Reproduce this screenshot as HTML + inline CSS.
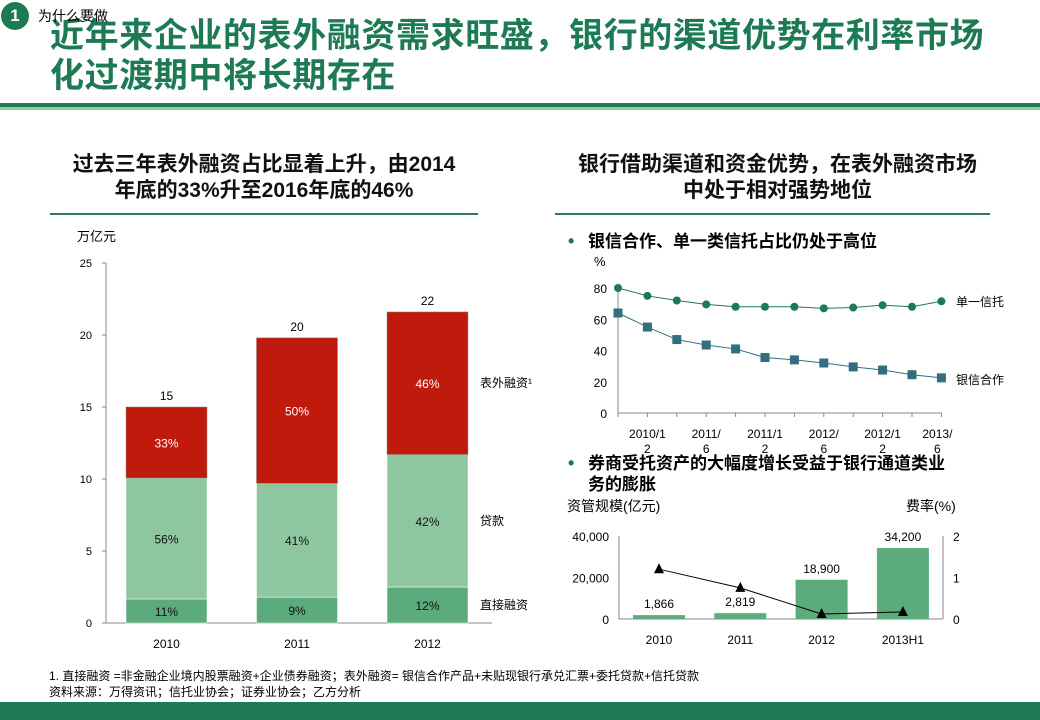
<!DOCTYPE html>
<html><head><meta charset="utf-8">
<style>
body{margin:0;width:1040px;height:720px;overflow:hidden;background:#fff;font-family:"Liberation Sans","Noto Sans CJK SC",sans-serif;position:relative}
.a{position:absolute}
.t{font-weight:bold;color:#1d7a55;font-size:34px;letter-spacing:0.6px;line-height:40px;left:50px;top:16px;white-space:nowrap}
.h{font-weight:bold;font-size:21px;line-height:26px;text-align:center;color:#111;white-space:nowrap}
svg text{font-family:"Liberation Sans","Noto Sans CJK SC",sans-serif}
</style></head><body>
<div class="a" style="left:1px;top:2px;width:28px;height:28px;border-radius:50%;background:#1d7a55;color:#fff;font-weight:bold;font-size:17px;text-align:center;line-height:28px">1</div>
<div class="a t">近年来企业的表外融资需求旺盛，银行的渠道优势在利率市场<br>化过渡期中将长期存在</div>
<div class="a" style="left:38px;top:6px;font-size:14px">为什么要做</div>
<div class="a" style="left:0;top:103px;width:1040px;height:4px;background:#1d7a55"></div>
<div class="a" style="left:0;top:107px;width:1040px;height:3px;background:#8fcaa5"></div>

<div class="a h" style="left:50px;top:152px;width:428px">过去三年表外融资占比显着上升，由2014<br>年底的33%升至2016年底的46%</div>
<div class="a" style="left:50px;top:213px;width:428px;height:2px;background:#2e7a62"></div>
<div class="a h" style="left:555px;top:152px;width:445px">银行借助渠道和资金优势，在表外融资市场<br>中处于相对强势地位</div>
<div class="a" style="left:555px;top:213px;width:435px;height:2px;background:#2e7a62"></div>

<svg class="a" style="left:0;top:0" width="1040" height="720" id="svg"></svg>

<div class="a" style="left:49px;top:668px;font-size:12px;line-height:16px">1. 直接融资 =非金融企业境内股票融资+企业债券融资；表外融资= 银信合作产品+未贴现银行承兑汇票+委托贷款+信托贷款<br>资料来源：万得资讯；信托业协会；证券业协会；乙方分析</div>
<div class="a" style="left:0;top:702px;width:1040px;height:18px;background:#1d7a55"></div>

<script>
const years=["2010","2011","2012"];
const direct=[1.67,1.8,2.5];
const loans=[8.4,7.9,9.2];
const offbs=[4.93,10.1,9.9];
const totals=["15","20","22"];
const pctDirect=["11%","9%","12%"];
const pctLoan=["56%","41%","42%"];
const pctOff=["33%","50%","46%"];
const leftTicks=[0,5,10,15,20,25];

const lineX=["2010/12","","2011/6","","2011/12","","2012/6","","2012/12","","2013/6",""];
const single=[80,75,72,69.5,68,68,68,67,67.5,69,68,71.5];
const bankTrust=[64,55,47,43.5,41,35.5,34,32,29.5,27.5,24.5,22.5];
const lineTicks=[0,20,40,60,80];

const brokYears=["2010","2011","2012","2013H1"];
const brokScale=[1866,2819,18900,34200];
const brokLabels=["1,866","2,819","18,900","34,200"];
const feeRate=[1.2,0.75,0.12,0.17];
const brokTicks=[0,20000,40000];
const brokTickLabels=["0","20,000","40,000"];
const rateTicks=[0,1,2];

const svg=document.getElementById('svg');
const NS="http://www.w3.org/2000/svg";
function mk(tag,at,txt){const e=document.createElementNS(NS,tag);for(const k in at)e.setAttribute(k,at[k]);if(txt!==undefined)e.textContent=txt;svg.appendChild(e);return e;}

// Left stacked chart
const ly=v=>623-v*14.4;
const lx=i=>126+i*130.5;
let e=mk('text',{x:77,y:241,'font-size':13},'万亿元');

e=mk('line',{x1:106,y1:263,x2:106,y2:623,stroke:'#888'});

e=mk('line',{x1:106,y1:623,x2:492,y2:623,stroke:'#888'});

leftTicks.forEach(t=>{
  e=mk('line',{x1:102,y1:ly(t),x2:106,y2:ly(t),stroke:'#888'});
  
  e=mk('text',{x:92,y:ly(t)+4,'font-size':11,'text-anchor':'end'},t);
  
});
years.forEach((y,i)=>{
  const x=lx(i),w=81;
  const b0=direct[i],b1=b0+loans[i],b2=b1+offbs[i];
  e=mk('rect',{x:x,y:ly(b0),width:w,height:ly(0)-ly(b0),fill:'#5bab7d',stroke:'#fff','stroke-width':0.5});
  
  e=mk('rect',{x:x,y:ly(b1),width:w,height:ly(b0)-ly(b1),fill:'#8ec79f',stroke:'#fff','stroke-width':0.5});
  
  e=mk('rect',{x:x,y:ly(b2),width:w,height:ly(b1)-ly(b2),fill:'#c01a0c',stroke:'#888','stroke-width':0.5});
  
  e=mk('text',{x:x+w/2,y:(ly(0)+ly(b0))/2+5,'font-size':12,'text-anchor':'middle',fill:'#111'},pctDirect[i]);
  
  e=mk('text',{x:x+w/2,y:(ly(b0)+ly(b1))/2+5,'font-size':12,'text-anchor':'middle',fill:'#111'},pctLoan[i]);
  
  e=mk('text',{x:x+w/2,y:(ly(b1)+ly(b2))/2+5,'font-size':12,'text-anchor':'middle',fill:'#fff'},pctOff[i]);
  
  e=mk('text',{x:x+w/2,y:ly(b2)-7,'font-size':12,'text-anchor':'middle'},totals[i]);
  
  e=mk('text',{x:x+w/2,y:648,'font-size':12,'text-anchor':'middle'},y);
  
});
[['表外融资¹',387],['贷款',525],['直接融资',609]].forEach(l=>{
  e=mk('text',{x:480,y:l[1],'font-size':12},l[0]);
  
});

// Right line chart
e=mk('text',{x:568,y:247,'font-size':18,'font-weight':'bold',fill:'#1d7a55'},'•');

e=mk('text',{x:588,y:247,'font-size':17,'font-weight':'bold'},'银信合作、单一类信托占比仍处于高位');

e=mk('text',{x:594,y:266,'font-size':13},'%');

const py=v=>413-v*1.5625;
const px=i=>618+i*29.4;
e=mk('line',{x1:618,y1:288,x2:618,y2:413,stroke:'#888'});

e=mk('line',{x1:618,y1:413,x2:942,y2:413,stroke:'#888'});

lineTicks.forEach(t=>{
  e=mk('text',{x:607,y:py(t)+5,'font-size':12,'text-anchor':'end'},t);
  
});
lineX.forEach((l,i)=>{
  e=mk('line',{x1:px(i),y1:413,x2:px(i),y2:417,stroke:'#888'});
  
  if(l){
    const cut=l.length>6?6:5;
    const cx=px(i)+29.4+(i==10?-4:0);
    e=mk('text',{x:cx,y:438,'font-size':12,'text-anchor':'middle'},l.slice(0,cut));
    
    e=mk('text',{x:cx,y:453,'font-size':12,'text-anchor':'middle'},l.slice(cut));
    }
});
e=mk('polyline',{points:single.map((v,i)=>px(i)+','+py(v)).join(' '),fill:'none',stroke:'#1d7a55','stroke-width':1});

e=mk('polyline',{points:bankTrust.map((v,i)=>px(i)+','+py(v)).join(' '),fill:'none',stroke:'#336e80','stroke-width':1});

single.forEach((v,i)=>{e=mk('circle',{cx:px(i),cy:py(v),r:4,fill:'#1d7a55'});
  });
bankTrust.forEach((v,i)=>{e=mk('rect',{x:px(i)-4.5,y:py(v)-4.5,width:9,height:9,fill:'#336e80'});
  });
e=mk('text',{x:956,y:306,'font-size':12},'单一信托');

e=mk('text',{x:956,y:384,'font-size':12},'银信合作');


// Bottom combo chart
e=mk('text',{x:568,y:469,'font-size':18,'font-weight':'bold',fill:'#1d7a55'},'•');

e=mk('text',{x:588,y:469,'font-size':17,'font-weight':'bold'},'券商受托资产的大幅度增长受益于银行通道类业');

e=mk('text',{x:588,y:490,'font-size':17,'font-weight':'bold'},'务的膨胀');

e=mk('text',{x:567,y:511,'font-size':14},'资管规模(亿元)');

e=mk('text',{x:906,y:511,'font-size':14},'费率(%)');

const by=v=>619-v*83/40000;
const ry=v=>619-v*41.5;
const bx=i=>659+i*81.3;
e=mk('line',{x1:619,y1:536,x2:619,y2:619,stroke:'#888'});

e=mk('line',{x1:943,y1:536,x2:943,y2:619,stroke:'#888'});

e=mk('line',{x1:619,y1:619,x2:943,y2:619,stroke:'#888'});

brokTicks.forEach((t,i)=>{
  e=mk('text',{x:609,y:by(t)+5,'font-size':12,'text-anchor':'end'},brokTickLabels[i]);
  
});
rateTicks.forEach(t=>{
  e=mk('text',{x:953,y:ry(t)+5,'font-size':12},t);
  
});
brokYears.forEach((y,i)=>{
  e=mk('rect',{x:bx(i)-26,y:by(brokScale[i]),width:52,height:619-by(brokScale[i]),fill:'#5bab7d'});
  
  e=mk('text',{x:bx(i),y:by(brokScale[i])-7,'font-size':12,'text-anchor':'middle'},brokLabels[i]);
  
  e=mk('text',{x:bx(i),y:644,'font-size':12,'text-anchor':'middle'},y);
  
});
e=mk('polyline',{points:feeRate.map((v,i)=>bx(i)+','+ry(v)).join(' '),fill:'none',stroke:'#000','stroke-width':1});

feeRate.forEach((v,i)=>{const x=bx(i),y=ry(v);
  e=mk('polygon',{points:`${x},${y-6} ${x-5},${y+4} ${x+5},${y+4}`,fill:'#000'});
  });
</script>
</body></html>
